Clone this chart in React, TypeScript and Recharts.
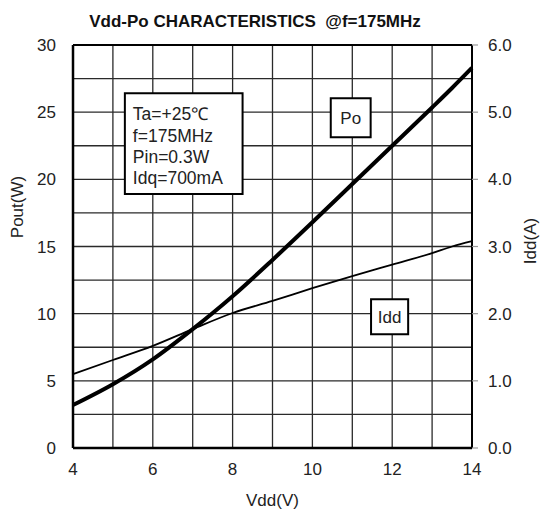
import { LineChart, Line, XAxis, YAxis, CartesianGrid, ReferenceArea, ReferenceLine } from 'recharts';

const vdd = [4, 5, 6, 7, 8, 9, 10, 11, 12, 13, 13.5, 14];
const pout = [3.2, 4.75, 6.6, 8.85, 11.3, 14.0, 16.8, 19.65, 22.5, 25.35, 26.8, 28.3];
const idd = [1.1, 1.31, 1.52, 1.77, 2.01, 2.19, 2.38, 2.56, 2.73, 2.9, 3.0, 3.08];

const vddTicks = [4, 6, 8, 10, 12, 14];
const poutTicks = [0, 5, 10, 15, 20, 25, 30];
const iddTicks = [0, 1, 2, 3, 4, 5, 6];
const vddGrid = [5, 6, 7, 8, 9, 10, 11, 12, 13];
const poutGrid = [2.5, 5, 7.5, 10, 12.5, 15, 17.5, 20, 22.5, 25, 27.5];
const conditions = ['Ta=+25℃', 'f=175MHz', 'Pin=0.3W', 'Idq=700mA'];

const data = vdd.map((v, i) => ({ vdd: v, pout: pout[i], idd: idd[i] }));

const FONT = '"Liberation Sans", Arial, sans-serif';
const INK = '#222';

const vertLabel = (text: string, cx: number, cy: number) => () => (
    <text
        x={cx}
        y={cy}
        transform={`rotate(-90 ${cx} ${cy})`}
        textAnchor="middle"
        dy="0.36em"
        fontSize={17}
        fontFamily={FONT}
        fill={INK}
    >
        {text}
    </text>
);

const conditionBox = (props: any) => {
    const { x, y } = props.viewBox;
    return (
        <g>
            {conditions.map((t, i) => (
                <text key={t} x={x + 8} y={y + 27 + i * 21.3} fontSize={17.5} fontFamily={FONT} fill={INK}>
                    {t}
                </text>
            ))}
        </g>
    );
};

export default function App() {
    return (
        <div style={{ position: 'absolute', left: 0, top: 0, width: 541, height: 513, background: '#fff', fontFamily: FONT }}>
            <div
                style={{
                    position: 'absolute',
                    left: 0,
                    top: 13,
                    width: 510,
                    textAlign: 'center',
                    fontSize: 17,
                    lineHeight: '17px',
                    fontWeight: 'bold',
                    color: '#111',
                }}
            >
                Vdd-Po CHARACTERISTICS&nbsp;&nbsp;@f=175MHz
            </div>
            <LineChart width={541} height={513} data={data} margin={{ top: 45, right: 0, bottom: 0, left: 0 }}>
                <CartesianGrid
                    yAxisId="left"
                    stroke="#2a2a2a"
                    strokeWidth={1.3}
                    verticalValues={vddGrid}
                    horizontalValues={poutGrid}
                />
                <XAxis
                    dataKey="vdd"
                    type="number"
                    domain={[4, 14]}
                    ticks={vddTicks}
                    interval={0}
                    height={65}
                    tickLine={false}
                    tickSize={6}
                    tickMargin={9}
                    axisLine={{ stroke: '#000', strokeWidth: 2.5 }}
                    tick={{ fontSize: 17, fill: INK, fontFamily: FONT }}
                    label={{ value: 'Vdd(V)', position: 'insideBottom', offset: 7, fontSize: 17, fill: INK, fontFamily: FONT }}
                />
                <YAxis
                    yAxisId="left"
                    domain={[0, 30]}
                    ticks={poutTicks}
                    interval={0}
                    width={73}
                    tickLine={false}
                    tickSize={6}
                    tickMargin={11}
                    axisLine={{ stroke: '#000', strokeWidth: 2.5 }}
                    tick={{ fontSize: 17, fill: INK, fontFamily: FONT }}
                    label={{ content: vertLabel('Pout(W)', 17, 207) }}
                />
                <YAxis
                    yAxisId="right"
                    orientation="right"
                    domain={[0, 6]}
                    ticks={iddTicks}
                    interval={0}
                    width={69}
                    tickSize={6}
                    tickMargin={10}
                    tickLine={{ stroke: '#999', strokeWidth: 1.2 }}
                    tickFormatter={(v: number) => v.toFixed(1)}
                    axisLine={{ stroke: '#000', strokeWidth: 2 }}
                    tick={{ fontSize: 17, fill: INK, fontFamily: FONT }}
                    label={{ content: vertLabel('Idd(A)', 530, 241) }}
                />
                <ReferenceLine yAxisId="left" y={30} stroke="#000" strokeWidth={1.8} />
                <ReferenceArea
                    yAxisId="left"
                    x1={5.3}
                    x2={8.25}
                    y1={18.9}
                    y2={26.4}
                    fill="#fff"
                    fillOpacity={1}
                    stroke="#000"
                    strokeWidth={2}
                    label={{ content: conditionBox }}
                />
                <ReferenceArea
                    yAxisId="left"
                    x1={10.46}
                    x2={11.46}
                    y1={23.13}
                    y2={26.03}
                    fill="#fff"
                    fillOpacity={1}
                    stroke="#000"
                    strokeWidth={2}
                    label={{ value: 'Po', position: 'center', fontSize: 17, fill: INK, fontFamily: FONT }}
                />
                <ReferenceArea
                    yAxisId="left"
                    x1={11.47}
                    x2={12.4}
                    y1={8.46}
                    y2={11.07}
                    fill="#fff"
                    fillOpacity={1}
                    stroke="#000"
                    strokeWidth={2}
                    label={{ value: 'Idd', position: 'center', fontSize: 17, fill: INK, fontFamily: FONT }}
                />
                <Line yAxisId="right" dataKey="idd" type="monotone" stroke="#000" strokeWidth={1.8} dot={false} isAnimationActive={false} />
                <Line yAxisId="left" dataKey="pout" type="monotone" stroke="#000" strokeWidth={4} dot={false} isAnimationActive={false} />
            </LineChart>
        </div>
    );
}
